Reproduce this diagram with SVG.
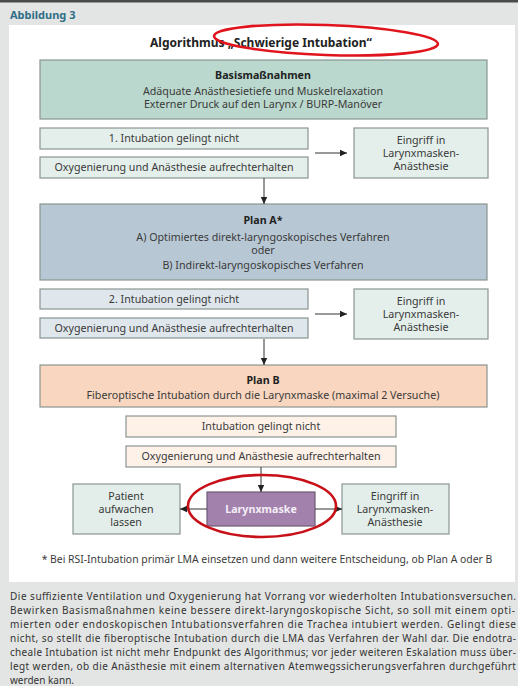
<svg xmlns="http://www.w3.org/2000/svg" width="518" height="686" viewBox="0 0 518 686">
<defs>
<style>
.t{font-family:"Noto Sans","Open Sans","Liberation Sans",sans-serif;font-size:10.7px;fill:#3a3a3a;text-anchor:middle}
.b{font-weight:bold;fill:#222}
.box{stroke:#8a9590;stroke-width:1.2}
.cap{font-family:"Noto Sans","Open Sans","Liberation Sans",sans-serif;font-size:10px;fill:#333}
.con{stroke:#333;stroke-width:1;fill:none}
.red{fill:none;stroke:#e0141c;stroke-width:2.6}
</style>
<marker id="ah" markerWidth="8" markerHeight="8" refX="7" refY="4" orient="auto" markerUnits="userSpaceOnUse">
<path d="M0,0.8 L7,4 L0,7.2 Z" fill="#222"/>
</marker>
</defs>
<rect x="0" y="0" width="518" height="686" fill="#e3e5e4"/>
<rect x="0" y="0" width="518" height="2.5" fill="#4a4a4a"/>
<rect x="9" y="25" width="506" height="557" fill="#ffffff"/>
<text x="10" y="19" style="font-family:'Noto Sans','Open Sans',sans-serif;font-size:11px;font-weight:bold;fill:#2e6e86">Abbildung 3</text>
<text x="261" y="47" class="t b" style="font-size:12px">Algorithmus „Schwierige Intubation“</text>

<g id="basis">
<rect x="40" y="60" width="447" height="59" fill="#bad8cd" class="box"/>
<text x="263" y="79" class="t b">Basismaßnahmen</text>
<text x="263" y="95" class="t">Adäquate Anästhesietiefe und Muskelrelaxation</text>
<text x="263" y="108" class="t">Externer Druck auf den Larynx / BURP-Manöver</text>
</g>
<g id="int1">
<rect x="40" y="128" width="268" height="21" fill="#e4efeb" class="box"/>
<text x="174" y="142" class="t">1. Intubation gelingt nicht</text>
</g>
<g id="oxy1">
<rect x="40" y="157" width="268" height="21" fill="#e4efeb" class="box"/>
<text x="174" y="171" class="t">Oxygenierung und Anästhesie aufrechterhalten</text>
</g>
<g id="lma1">
<rect x="354" y="128" width="134" height="50" fill="#e4efeb" class="box"/>
<text x="421" y="144" class="t">Eingriff in</text>
<text x="421" y="157" class="t">Larynxmasken-</text>
<text x="421" y="170" class="t">Anästhesie</text>
</g>

<g id="planA">
<rect x="40" y="204" width="447" height="76" fill="#b7c8d4" class="box"/>
<text x="263" y="224" class="t b">Plan A*</text>
<text x="263" y="241" class="t">A) Optimiertes direkt-laryngoskopisches Verfahren</text>
<text x="263" y="254" class="t">oder</text>
<text x="263" y="269" class="t">B) Indirekt-laryngoskopisches Verfahren</text>
</g>
<g id="int2">
<rect x="40" y="289" width="268" height="20" fill="#dfe7ed" class="box"/>
<text x="174" y="303" class="t">2. Intubation gelingt nicht</text>
</g>
<g id="oxy2">
<rect x="40" y="318" width="268" height="20" fill="#dfe7ed" class="box"/>
<text x="174" y="332" class="t">Oxygenierung und Anästhesie aufrechterhalten</text>
</g>
<g id="lma2">
<rect x="354" y="289" width="134" height="50" fill="#e4efeb" class="box"/>
<text x="421" y="305" class="t">Eingriff in</text>
<text x="421" y="318" class="t">Larynxmasken-</text>
<text x="421" y="331" class="t">Anästhesie</text>
</g>

<g id="planB">
<rect x="40" y="365" width="447" height="42" fill="#f8d6bf" class="box"/>
<text x="263" y="384" class="t b">Plan B</text>
<text x="263" y="399" class="t">Fiberoptische Intubation durch die Larynxmaske (maximal 2 Versuche)</text>
</g>
<g id="int3">
<rect x="126" y="416" width="270" height="21" fill="#fdf1e8" class="box"/>
<text x="261" y="430" class="t">Intubation gelingt nicht</text>
</g>
<g id="oxy3">
<rect x="126" y="446" width="270" height="21" fill="#fdf1e8" class="box"/>
<text x="261" y="460" class="t">Oxygenierung und Anästhesie aufrechterhalten</text>
</g>
<g id="wake">
<rect x="73" y="484" width="107" height="50" fill="#e3eeea" class="box"/>
<text x="126" y="500" class="t">Patient</text>
<text x="126" y="513" class="t">aufwachen</text>
<text x="126" y="526" class="t">lassen</text>
</g>
<g id="lmask">
<rect x="207" y="492" width="108" height="34" fill="#a281ac" stroke="#6e5b74" stroke-width="1.2"/>
<text x="261" y="513" class="t b" style="fill:#f4eef6">Larynxmaske</text>
</g>
<g id="lma3">
<rect x="342" y="484" width="107" height="50" fill="#e3eeea" class="box"/>
<text x="395" y="500" class="t">Eingriff in</text>
<text x="395" y="513" class="t">Larynxmasken-</text>
<text x="395" y="526" class="t">Anästhesie</text>
</g>

<g id="connectors">
<line x1="264" y1="178" x2="264" y2="204" class="con" marker-end="url(#ah)"/>
<line x1="315" y1="153" x2="347" y2="153" class="con" marker-end="url(#ah)"/>
<line x1="264" y1="339" x2="264" y2="365" class="con" marker-end="url(#ah)"/>
<line x1="315" y1="314" x2="347" y2="314" class="con" marker-end="url(#ah)"/>
<line x1="261" y1="467" x2="261" y2="492" class="con" marker-end="url(#ah)"/>
<line x1="207" y1="509" x2="180" y2="509" class="con" marker-end="url(#ah)"/>
<line x1="315" y1="509" x2="342" y2="509" class="con" marker-end="url(#ah)"/>
</g>

<ellipse cx="326" cy="40" rx="112" ry="15" class="red" transform="rotate(2 326 40)"/>
<ellipse cx="262" cy="506" rx="74" ry="31" class="red" style="stroke:#c81018"/>

<text x="267" y="563" class="t" style="font-size:10.4px">* Bei RSI-Intubation primär LMA einsetzen und dann weitere Entscheidung, ob Plan A oder B</text>

<g class="cap">
<text x="10" y="600" textLength="506" lengthAdjust="spacing">Die suffiziente Ventilation und Oxygenierung hat Vorrang vor wiederholten Intubationsversuchen.</text>
<text x="10" y="614" textLength="505" lengthAdjust="spacing">Bewirken Basismaßnahmen keine bessere direkt-laryngoskopische Sicht, so soll mit einem opti-</text>
<text x="10" y="628" textLength="506" lengthAdjust="spacing">mierten oder endoskopischen Intubationsverfahren die Trachea intubiert werden. Gelingt diese</text>
<text x="10" y="642" textLength="506" lengthAdjust="spacing">nicht, so stellt die fiberoptische Intubation durch die LMA das Verfahren der Wahl dar. Die endotra-</text>
<text x="10" y="656" textLength="506" lengthAdjust="spacing">cheale Intubation ist nicht mehr Endpunkt des Algorithmus; vor jeder weiteren Eskalation muss über-</text>
<text x="10" y="670" textLength="506" lengthAdjust="spacing">legt werden, ob die Anästhesie mit einem alternativen Atemwegssicherungsverfahren durchgeführt</text>
<text x="10" y="684">werden kann.</text>
</g>
</svg>
